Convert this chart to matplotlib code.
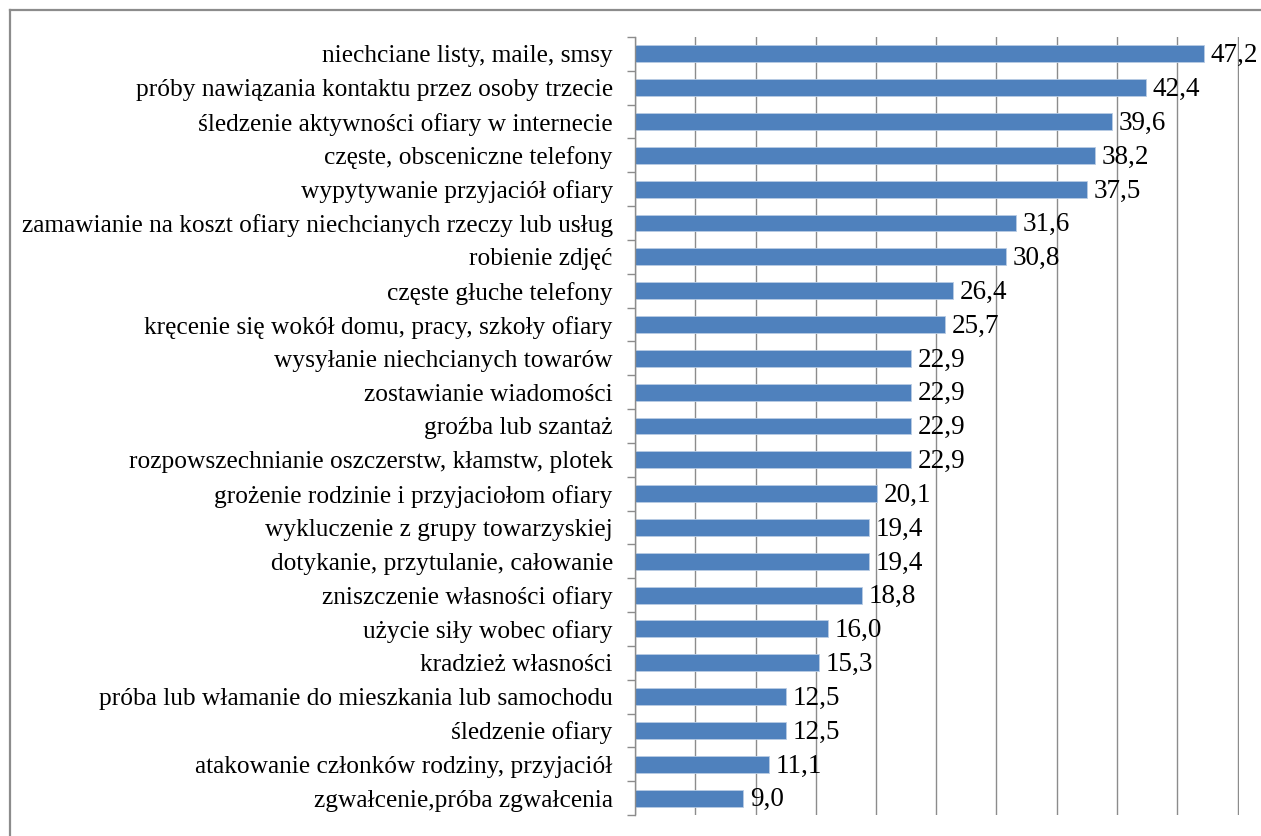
import matplotlib
matplotlib.use("Agg")
import matplotlib.pyplot as plt
from matplotlib.lines import Line2D
import numpy as np

categories = [
    "niechciane listy, maile, smsy",
    "próby nawiązania kontaktu przez osoby trzecie",
    "śledzenie aktywności ofiary w internecie",
    "częste, obsceniczne telefony",
    "wypytywanie przyjaciół ofiary",
    "zamawianie na koszt ofiary niechcianych rzeczy lub usług",
    "robienie zdjęć",
    "częste głuche telefony",
    "kręcenie się wokół domu, pracy, szkoły ofiary",
    "wysyłanie niechcianych towarów",
    "zostawianie wiadomości",
    "groźba lub szantaż",
    "rozpowszechnianie oszczerstw, kłamstw, plotek",
    "grożenie rodzinie i przyjaciołom ofiary",
    "wykluczenie z grupy towarzyskiej",
    "dotykanie, przytulanie, całowanie",
    "zniszczenie własności ofiary",
    "użycie siły wobec ofiary",
    "kradzież własności",
    "próba lub włamanie do mieszkania lub samochodu",
    "śledzenie ofiary",
    "atakowanie członków rodziny, przyjaciół",
    "zgwałcenie,próba zgwałcenia",
]
values = [47.2, 42.4, 39.6, 38.2, 37.5, 31.6, 30.8, 26.4, 25.7, 22.9, 22.9, 22.9,
          22.9, 20.1, 19.4, 19.4, 18.8, 16.0, 15.3, 12.5, 12.5, 11.1, 9.0]

plt.rcParams['font.family'] = ['Liberation Serif', 'DejaVu Serif']

W, H = 1261, 836
fig = plt.figure(figsize=(W / 100, H / 100), dpi=100)
ppu = 12.05
xmax = 50.15
ax = fig.add_axes([635 / W, 1 - 815 / H, xmax * ppu / W, (815 - 37) / H])

n = len(categories)
y = np.arange(n)
ax.barh(y, values, height=0.5, color='#4F81BD', edgecolor='#b8cce4', linewidth=0.6, zorder=2)
ax.set_ylim(n - 0.5, -0.5)
ax.set_xlim(0, xmax)
ax.set_xticks(np.arange(0, 51, 5))
ax.xaxis.grid(True, color='#8c8c8c', linewidth=1.0, zorder=0)
ax.set_axisbelow(True)
ax.tick_params(axis='x', length=0, labelbottom=False)

ax.set_yticks(y)
ax.set_yticklabels(categories, fontsize=18.3)
ax.set_yticks(np.arange(-0.5, n, 1), minor=True)
ax.tick_params(axis='y', which='major', length=0, pad=16)
ax.tick_params(axis='y', which='minor', length=6, color='#8c8c8c', width=1)

for s in ['top', 'right', 'bottom']:
    ax.spines[s].set_visible(False)
ax.spines['left'].set_color('#8c8c8c')
ax.spines['left'].set_linewidth(1.0)

for yi, v in zip(y, values):
    ax.text(v + 0.55, yi + 0.05, f"{v:.1f}".replace('.', ','), va='center', ha='left',
            fontsize=19.5, zorder=3)

# figure frame (right and bottom edges cropped)
fig.add_artist(Line2D([10 / W, 10 / W], [1 - 10 / H, 0], transform=fig.transFigure,
                      color='#8c8c8c', linewidth=1.6))
fig.add_artist(Line2D([10 / W, 1], [1 - 10 / H, 1 - 10 / H], transform=fig.transFigure,
                      color='#8c8c8c', linewidth=1.6))

fig.savefig('out.png', dpi=100)
